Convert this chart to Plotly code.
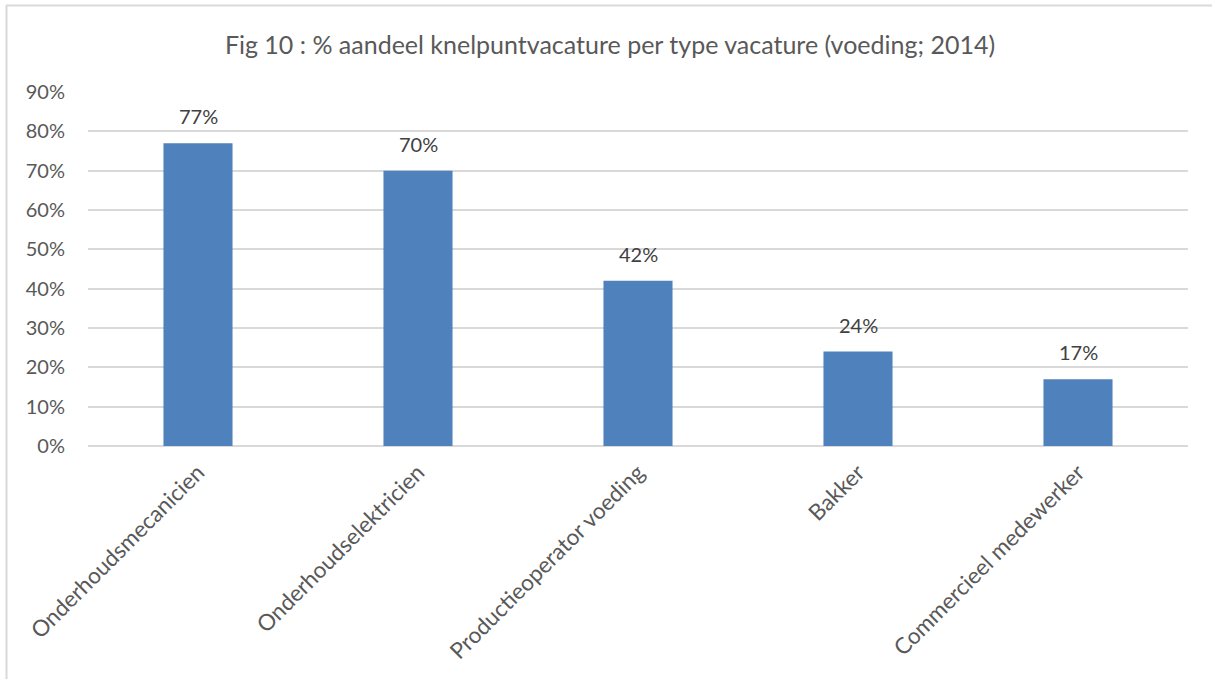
import plotly.graph_objects as go

categories = ["Onderhoudsmecanicien", "Onderhoudselektricien", "Productieoperator voeding", "Bakker", "Commercieel medewerker"]
values = [77, 70, 42, 24, 17]
value_labels = ["77%", "70%", "42%", "24%", "17%"]
y_ticks = [0, 10, 20, 30, 40, 50, 60, 70, 80, 90]
y_tick_labels = ["0%", "10%", "20%", "30%", "40%", "50%", "60%", "70%", "80%", "90%"]
title_text = "Fig 10 : % aandeel knelpuntvacature per type vacature (voeding; 2014)"

W, H = 1212, 679
ml, mr, mt, mb = 88, 24, 92, 233
pw, ph = W - ml - mr, H - mt - mb

font_family = "Lato, Open Sans, sans-serif"
text_color = "#595959"

fig = go.Figure()
fig.add_trace(go.Bar(
    x=categories, y=values,
    marker=dict(color="#4F81BD", line=dict(width=0)),
    hoverinfo="skip",
))

for c, v, lab in zip(categories, values, value_labels):
    fig.add_annotation(x=c, y=v, text=lab, showarrow=False, yanchor="bottom",
                       yshift=13, font=dict(family=font_family, size=20, color="#404040"))

def px_to_paper_x(px):
    return (px - ml) / pw

def px_to_paper_y(py):
    return (H - mb - py) / ph

border = dict(color="#d9d9d9", width=2)
# top border
fig.add_shape(type="line", xref="paper", yref="paper",
              x0=px_to_paper_x(6), x1=px_to_paper_x(1230),
              y0=px_to_paper_y(5.5), y1=px_to_paper_y(5.5), line=border)
# left border
fig.add_shape(type="line", xref="paper", yref="paper",
              x0=px_to_paper_x(6.5), x1=px_to_paper_x(6.5),
              y0=px_to_paper_y(5), y1=px_to_paper_y(700), line=border)

fig.update_layout(
    width=W, height=H,
    margin=dict(l=ml, r=mr, t=mt, b=mb, autoexpand=False),
    paper_bgcolor="white", plot_bgcolor="white",
    bargap=0.686,
    showlegend=False,
    title=dict(text=title_text, x=610 / W, xanchor="center", y=1 - 45 / H, yanchor="middle",
               font=dict(family=font_family, size=25, color=text_color)),
    xaxis=dict(tickangle=-45, tickfont=dict(family=font_family, size=22.5, color=text_color),
               showline=False, showgrid=False, ticks="", ticklen=0, ticklabelstandoff=8),
    yaxis=dict(range=[0, 90], tickvals=y_ticks, ticktext=y_tick_labels,
               tickfont=dict(family=font_family, size=20, color=text_color),
               showgrid=True, gridcolor="#d9d9d9", gridwidth=1.5,
               zeroline=True, zerolinecolor="#d9d9d9", zerolinewidth=1.5,
               showline=False, ticks="", ticklabelstandoff=22),
)

fig.write_html("out.html", config={"displayModeBar": False},
               post_script="document.body.style.margin='0';document.body.style.overflow='hidden';")
